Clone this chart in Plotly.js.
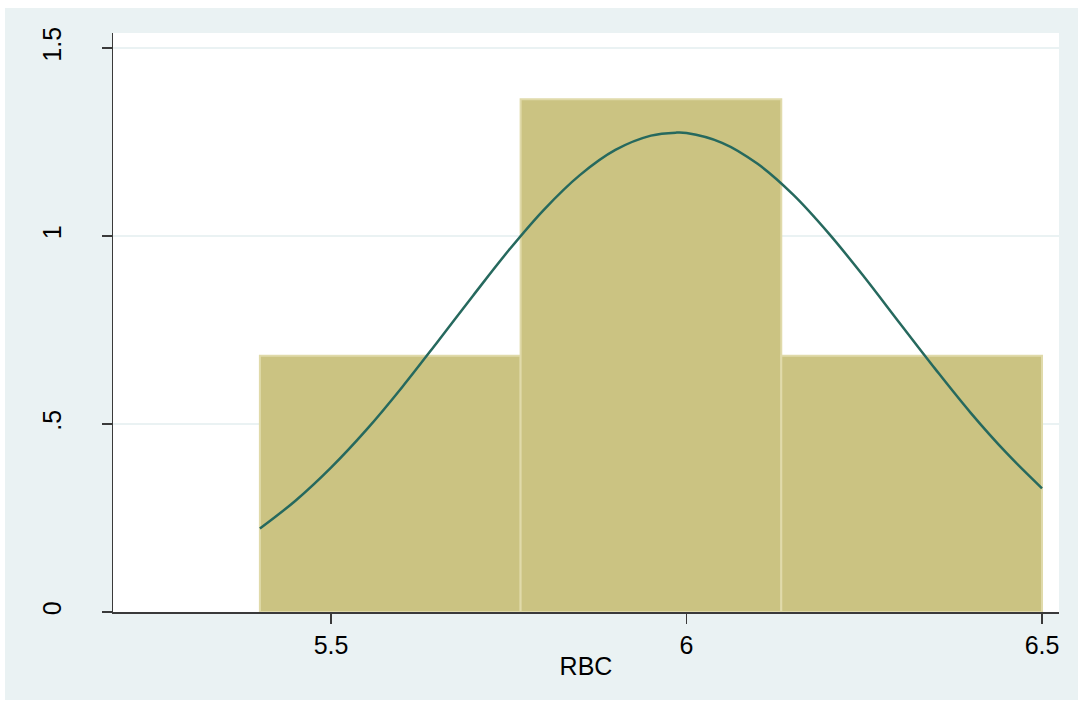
<!DOCTYPE html>
<html>
<head>
<meta charset="utf-8">
<script src="https://cdn.plot.ly/plotly-3.0.1.min.js"></script>
<style>
  html, body { margin: 0; padding: 0; background: #ffffff; }
  #chart { position: absolute; left: 5px; top: 8px; width: 1073px; height: 692px; }
</style>
</head>
<body>
<div id="chart"></div>
<script>
// Histogram of RBC (density scale)
const binEdges = [5.4, 5.7667, 6.1333, 6.5];
const binDensity = [0.6818, 1.3636, 0.6818];

// Normal density overlay
const curveX = [5.40, 5.45, 5.50, 5.55, 5.60, 5.65, 5.70, 5.75, 5.80, 5.85, 5.90, 5.95, 5.985,
                6.00, 6.05, 6.10, 6.15, 6.20, 6.25, 6.30, 6.35, 6.40, 6.45, 6.50];
const curveY = [0.222, 0.296, 0.384, 0.485, 0.598, 0.719, 0.842, 0.962, 1.071, 1.162, 1.229, 1.267, 1.275,
                1.274, 1.248, 1.192, 1.110, 1.007, 0.891, 0.768, 0.646, 0.529, 0.423, 0.329];

const xTickVals = [5.5, 6, 6.5];
const xTickText = ['5.5', '6', '6.5'];
const yTickVals = [0, 0.5, 1, 1.5];
const yTickText = ['0', '.5', '1', '1.5'];

const centers = [], widths = [];
for (let i = 0; i < binDensity.length; i++) {
  centers.push((binEdges[i] + binEdges[i + 1]) / 2);
  widths.push(binEdges[i + 1] - binEdges[i]);
}

const bars = {
  type: 'bar',
  x: centers,
  y: binDensity,
  width: widths,
  marker: { color: '#cbc382', line: { color: '#e0daaa', width: 2 } },
  hoverinfo: 'skip',
  showlegend: false
};

const curve = {
  type: 'scatter',
  mode: 'lines',
  x: curveX,
  y: curveY,
  line: { color: '#26695e', width: 2.5, shape: 'spline' },
  hoverinfo: 'skip',
  showlegend: false
};

const font = { family: 'Liberation Sans, Arial, sans-serif', size: 25, color: '#000000' };

const layout = {
  width: 1073,
  height: 692,
  paper_bgcolor: '#eaf2f3',
  plot_bgcolor: '#ffffff',
  margin: { l: 108, r: 19, t: 25, b: 88, autoexpand: false },
  font: font,
  bargap: 0,
  xaxis: {
    range: [5.1934, 6.5239],
    tickvals: xTickVals,
    ticktext: xTickText,
    showgrid: false,
    zeroline: false,
    showline: true,
    linecolor: '#3a3a3a',
    linewidth: 1.5,
    ticks: 'outside',
    ticklen: 10,
    tickwidth: 1.5,
    tickcolor: '#3a3a3a',
    ticklabelstandoff: 0,
    tickfont: font,
    automargin: false,
    title: { text: 'RBC', font: font, standoff: 0 }
  },
  yaxis: {
    range: [0, 1.54],
    tickvals: yTickVals,
    ticktext: yTickText,
    tickangle: -90,
    showgrid: true,
    gridcolor: '#eaf2f3',
    gridwidth: 2,
    zeroline: false,
    showline: true,
    linecolor: '#3a3a3a',
    linewidth: 1.5,
    ticks: 'outside',
    ticklen: 10,
    tickwidth: 1.5,
    tickcolor: '#3a3a3a',
    ticklabelstandoff: 31,
    tickfont: font,
    automargin: false
  }
};

Plotly.newPlot('chart', [bars, curve], layout, { staticPlot: true, displayModeBar: false });
</script>
</body>
</html>
